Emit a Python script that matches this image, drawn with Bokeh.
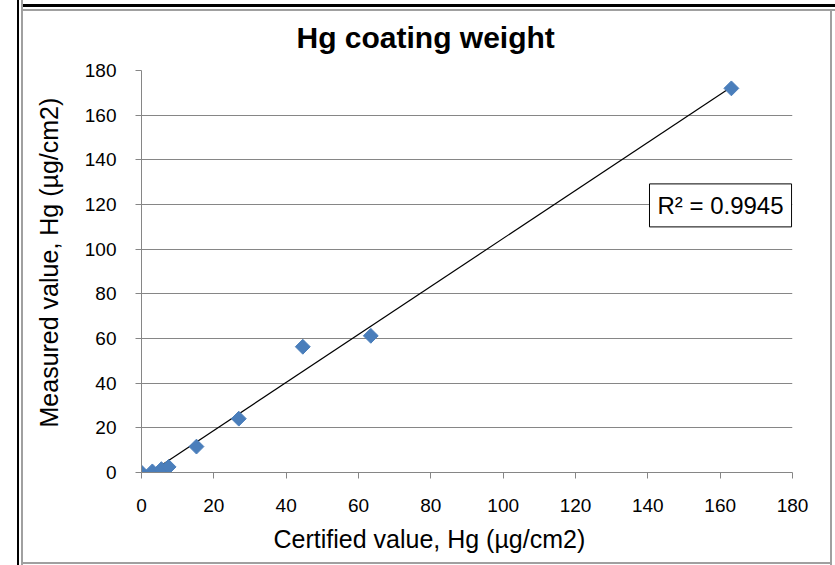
import numpy as np
from bokeh.plotting import figure
from bokeh.models import Label, Range1d, FixedTicker, Title
from bokeh.embed import file_html
from bokeh.resources import INLINE

# ---- data ----
certified = [0.0, 3.0, 5.5, 7.5, 15.2, 26.9, 44.6, 63.4, 163.1]
measured = [0.0, 0.5, 1.5, 2.5, 11.6, 24.1, 56.3, 61.2, 172.0]
x_ticks = [0, 20, 40, 60, 80, 100, 120, 140, 160, 180]
y_ticks = [0, 20, 40, 60, 80, 100, 120, 140, 160, 180]
title_text = "Hg coating  weight"
x_title = "Certified value, Hg (µg/cm2)"
y_title = "Measured value, Hg (µg/cm2)"
r2_text = "R² = 0.9945"

FONT = "'Liberation Sans', Arial, sans-serif"
GRID = "#868686"
MARK = "#4A7EBB"
BORDER = "#a0a0a0"

p = figure(width=835, height=565, output_backend="svg", toolbar_location=None,
           x_range=Range1d(0, 180), y_range=Range1d(0, 180),
           min_border_left=141, min_border_right=43,
           min_border_top=70, min_border_bottom=93)
p.outline_line_color = None
p.background_fill_color = "white"
p.border_fill_color = None

# chart frame (black screenshot edge + gray chart border)
p.styles = {
    "box-shadow": (
        "inset 17px 0 0 0 #fff, inset 19px 0 0 0 #000, inset 21px 0 0 0 #fff, "
        f"inset 23px 0 0 0 {BORDER}, "
        "inset 0 4px 0 0 #fff, inset 0 7px 0 0 #000, inset 0 9px 0 0 #fff, "
        f"inset 0 11px 0 0 {BORDER}, "
        f"inset -3px 0 0 0 #fff, inset -5px 0 0 0 {BORDER}, "
        f"inset 0 -1px 0 0 #fff, inset 0 -3px 0 0 {BORDER}"
    )
}

# title
p.title.text = title_text
p.title.align = "left"
p.title.offset = 155
p.title.text_font = FONT
p.title.text_font_size = "30px"
p.title.text_font_style = "bold"
p.title.text_color = "black"
p.title.standoff = 34

for ax, ticks in ((p.xaxis, x_ticks), (p.yaxis, y_ticks)):
    ax.ticker = FixedTicker(ticks=ticks)
    ax.axis_line_color = GRID
    ax.major_tick_line_color = GRID
    ax.major_tick_out = 6
    ax.major_tick_in = 0
    ax.minor_tick_line_color = None
    ax.major_label_text_font = FONT
    ax.major_label_text_font_size = "19px"
    ax.major_label_text_color = "black"
p.xaxis.major_label_standoff = 20
p.yaxis.major_label_standoff = 19

p.xgrid.grid_line_color = None
p.ygrid.grid_line_color = GRID
p.ygrid.grid_line_width = 1

# axis titles
p.add_layout(Title(text=x_title, align="left", offset=132, text_font=FONT,
                   text_font_size="25px", text_font_style="normal",
                   text_color="black", standoff=16), "below")
p.add_layout(Title(text=y_title, align="left", offset=45, text_font=FONT,
                   text_font_size="25px", text_font_style="normal",
                   text_color="black", standoff=38), "left")

# linear trendline
slope, intercept = np.polyfit(certified, measured, 1)
xs = [min(certified), max(certified)]
ys = [slope * v + intercept for v in xs]
p.line(xs, ys, line_color="black", line_width=1.2)

p.scatter(certified, measured, marker="square", size=10.5, angle=np.pi / 4,
          fill_color=MARK, line_color=MARK)

p.add_layout(Label(x=160.1, y=119.6, text=r2_text, text_align="center",
                   text_baseline="middle", text_font=FONT, text_font_size="24px",
                   text_color="black", background_fill_color="white",
                   border_line_color="black", border_line_width=1, padding=8))

open("out.html", "w").write(file_html(p, INLINE))
